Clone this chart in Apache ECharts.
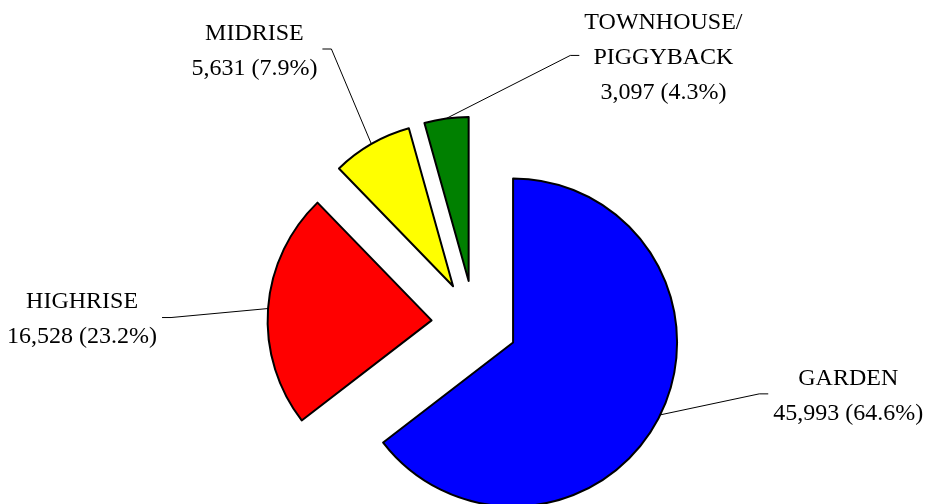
<!DOCTYPE html>
<html>
<head>
<meta charset="utf-8">
<script src="https://cdn.jsdelivr.net/npm/echarts@6/dist/echarts.min.js"></script>
<style>
  html, body { margin: 0; padding: 0; background: #fff; }
  #chart { width: 930px; height: 504px; }
</style>
</head>
<body>
<div id="chart"></div>
<script>
// slices, clockwise from 12 o'clock
const categories = ['GARDEN', 'HIGHRISE', 'MIDRISE', 'TOWNHOUSE/\nPIGGYBACK'];
const units = [45993, 16528, 5631, 3097];
const sliceColors = ['#0000ff', '#ff0000', '#ffff00', '#008000'];

// where each leader line ends, measured from the slice's arc midpoint
const leaderPull = [[108, -21], [-106, 9], [-49, -95], [133, -63]];

const pieCenter = [474.5, 323.5];
const pieRadius = 164;
const explode = 43;

const total = units.reduce((a, b) => a + b, 0);

// every slice is pulled out along its own mid angle, so each one gets
// its own pie series (others left invisible) with a shifted center
let acc = 0;
const midAngles = units.map(v => {
  const mid = (acc + v / 2) / total * Math.PI * 2;
  acc += v;
  return mid;
});

function labelText(p) {
  return p.name + '\n' + p.value.toLocaleString('en-US') +
    ' (' + (p.value / total * 100).toFixed(1) + '%)';
}

const chart = echarts.init(document.getElementById('chart'));

const series = categories.map((_, k) => ({
  type: 'pie',
  silent: true,
  center: [
    pieCenter[0] + explode * Math.sin(midAngles[k]),
    pieCenter[1] - explode * Math.cos(midAngles[k])
  ],
  radius: pieRadius,
  startAngle: 90,
  clockwise: true,
  avoidLabelOverlap: false,
  emphasis: { disabled: true },
  label: {
    position: 'outside',
    color: '#000',
    fontFamily: 'Liberation Serif',
    fontSize: 24,
    lineHeight: 35,
    formatter: labelText
  },
  labelLine: { lineStyle: { color: '#000', width: 1 } },
  labelLayout: function (params) {
    if (params.dataIndex !== k || !params.labelLinePoints) return {};
    const p0 = params.labelLinePoints[0];
    const pull = leaderPull[k];
    const end = [p0[0] + pull[0], p0[1] + pull[1]];
    const side = pull[0] > 0 ? 1 : -1;
    const knee = [end[0] - side * 9, end[1]];
    return {
      x: end[0] + side * (5 + params.labelRect.width / 2),
      y: end[1] + 2,
      align: 'center',
      verticalAlign: 'middle',
      labelLinePoints: [p0, knee, end]
    };
  },
  data: categories.map((name, i) => ({
    name: name,
    value: units[i],
    itemStyle: i === k
      ? { color: sliceColors[i], borderColor: '#000', borderWidth: 2 }
      : { color: 'rgba(0,0,0,0)', borderWidth: 0 },
    label: { show: i === k },
    labelLine: { show: i === k }
  }))
}));

chart.setOption({
  animation: false,
  backgroundColor: '#fff',
  series: series
});
</script>
</body>
</html>
